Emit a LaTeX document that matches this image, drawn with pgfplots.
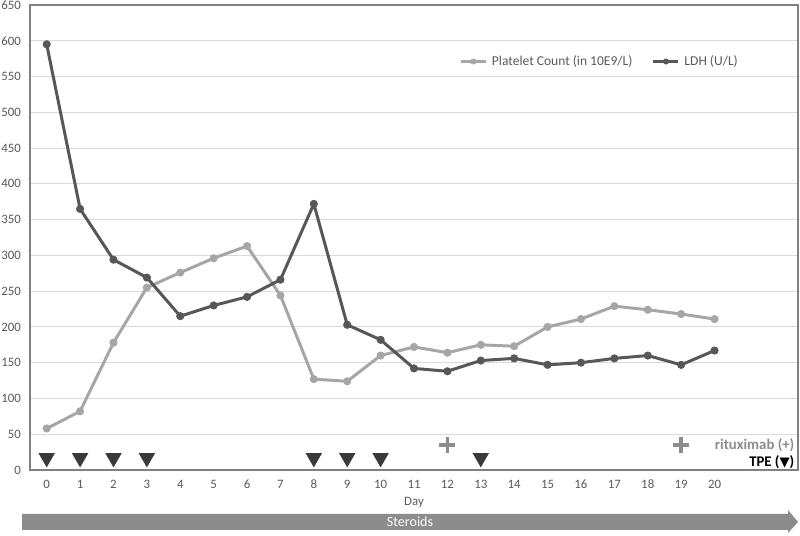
\documentclass[border=0pt]{standalone}
\usepackage{fontspec}
\setmainfont{Carlito}
\newfontfamily\dejavu{DejaVu Sans}
\usepackage{pgfplots}
\pgfplotsset{compat=1.18}
\definecolor{pltc}{HTML}{A6A6A6}
\definecolor{ldhc}{HTML}{575757}
\definecolor{tpec}{HTML}{3A3A3A}
\definecolor{rituxc}{HTML}{8C8C8C}
\definecolor{tickc}{HTML}{595959}
\definecolor{gridc}{HTML}{DADADA}
\definecolor{framec}{HTML}{808080}
\definecolor{arrowc}{HTML}{8C8C8C}

\begin{document}
\begin{tikzpicture}
\useasboundingbox (-0.6,-1.32) rectangle (15.4,9.4);
\begin{axis}[
    at={(0,0)}, anchor=south west,
    scale only axis,
    width=15.36cm, height=9.3cm,
    xmin=-0.5, xmax=22.5, ymin=0, ymax=650,
    xtick={0,...,20}, ytick={0,50,...,650},
    tick style={draw=none},
    ymajorgrids,
    grid style={gridc, line width=0.6pt},
    axis line style={framec, line width=1.2pt},
    ticklabel style={font=\fontsize{7.3}{8}\selectfont, text=tickc},
    xticklabel style={yshift=-0.08cm},
    yticklabel style={xshift=-0.06cm},
    /pgf/number format/assume math mode=true,
    xlabel={Day},
    xlabel style={at={(axis description cs:0.5,0)}, anchor=center, yshift=-0.64cm,
        font=\fontsize{7.3}{8}\selectfont, text=tickc},
    legend style={at={(axis cs:12.35,571)}, anchor=west, draw=none, fill=none,
        font=\fontsize{7.7}{9}\selectfont, text=tickc,
        inner sep=0pt,
        /tikz/every odd column/.append style={column sep=0.02cm},
        /tikz/every even column/.append style={column sep=0.32cm}},
    legend columns=2,
    legend image code/.code={
        \draw[line width=1.7pt, mark repeat=2, mark phase=2, mark size=1.5pt]
            plot coordinates {(0cm,0cm) (0.25cm,0cm) (0.5cm,0cm)};
    },
]
% platelet count
\addplot[pltc, line width=1.7pt, line join=round, mark=*, mark size=2.1pt,
    mark options={fill=pltc, draw=pltc, line width=0.4pt}] coordinates {
    (0,58) (1,82) (2,178) (3,255) (4,276) (5,296) (6,313) (7,244)
    (8,127) (9,124) (10,160) (11,172) (12,164) (13,175) (14,173)
    (15,200) (16,211) (17,229) (18,224) (19,218) (20,211)
};
\addlegendentry{Platelet Count (in 10E9/L)}
% LDH
\addplot[ldhc, line width=1.7pt, line join=round, mark=*, mark size=2.1pt,
    mark options={fill=ldhc, draw=ldhc, line width=0.4pt}] coordinates {
    (0,595) (1,365) (2,294) (3,269) (4,215) (5,230) (6,242) (7,266)
    (8,372) (9,203) (10,182) (11,142) (12,138) (13,153) (14,156)
    (15,147) (16,150) (17,156) (18,160) (19,147) (20,167)
};
\addlegendentry{LDH (U/L)}
% TPE sessions
\addplot[only marks, forget plot, mark=triangle*, mark size=5pt,
    mark options={rotate=180, fill=tpec, draw=tpec}] coordinates {
    (0,17) (1,17) (2,17) (3,17) (8,17) (9,17) (10,17) (13,17)
};
% rituximab doses
\addplot[only marks, forget plot, mark=+, mark size=4.5pt,
    mark options={draw=rituxc, line width=2pt}] coordinates {
    (12,35) (19,35)
};
\node[anchor=east, inner sep=0pt, text=rituxc, font=\bfseries\fontsize{8.4}{9}\selectfont]
    at (axis cs:22.4,35) {rituximab (\textbf{+})};
\node[anchor=east, inner sep=0pt, text=black, font=\bfseries\fontsize{8.4}{9}\selectfont]
    at (axis cs:22.4,11) {TPE ({\dejavu\fontsize{7.5}{8}\selectfont ▼})};
\end{axis}
% steroids bar
\fill[arrowc] (-0.16,-0.88) -- (15.16,-0.88) -- (15.16,-0.8) -- (15.36,-1.04)
    -- (15.16,-1.26) -- (15.16,-1.2) -- (-0.16,-1.2) -- cycle;
\node[text=white, font=\fontsize{8}{9}\selectfont] at (7.6,-1.04) {Steroids};
\end{tikzpicture}
\end{document}
